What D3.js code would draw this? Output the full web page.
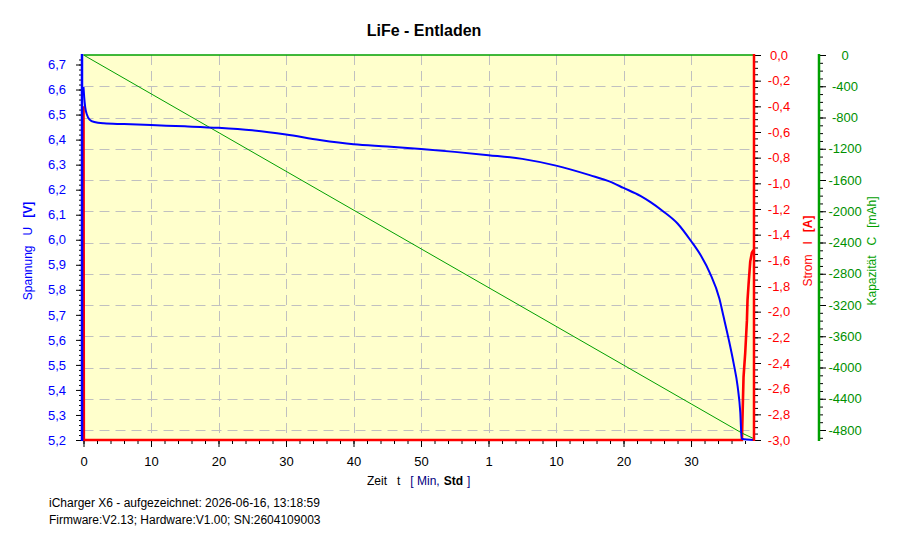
<!DOCTYPE html>
<html><head><meta charset="utf-8">
<script src="https://cdn.jsdelivr.net/npm/d3@7"></script>
<style>body{margin:0;background:#fff;} svg{display:block;font-family:"Liberation Sans",Arial,sans-serif;}</style>
</head><body><svg id="c" width="900" height="560"></svg>
<script>
// ---- data (time in minutes) ----
const voltTime   = [0, 0.1, 0.25, 0.5, 0.9, 1.6, 3, 6, 10, 15, 20, 25, 30, 35, 40, 45, 50, 55, 60, 65, 70, 75, 78, 80, 82.5, 84, 85.8, 88, 90, 91.5, 92.8, 94.2, 94.8, 95.6, 96.3, 96.9, 97.3, 97.5, 99.33];
const voltValues = [6.61, 6.57, 6.53, 6.50, 6.48, 6.47, 6.465, 6.462, 6.458, 6.453, 6.447, 6.437, 6.42, 6.398, 6.381, 6.372, 6.362, 6.351, 6.338, 6.323, 6.296, 6.258, 6.232, 6.207, 6.175, 6.15, 6.115, 6.065, 5.995, 5.935, 5.867, 5.765, 5.695, 5.6, 5.508, 5.415, 5.31, 5.205, 5.2];
const currTime   = [0, 0.05, 97.54, 97.78, 98.03, 98.28, 98.37, 98.52, 98.77, 99.02, 99.26];
const currValues = [-0.4, -3.0, -3.0, -2.51, -2.32, -2.07, -1.91, -1.79, -1.61, -1.54, -1.52];
const capTime    = [0, 97.6, 99.33];
const capValues  = [0, -4842, -4912];

const xTicks      = [0, 10, 20, 30, 40, 50, 60, 70, 80, 90];
const xTickLabels = ["0", "10", "20", "30", "40", "50", "1", "10", "20", "30"];
const voltTicks   = [5.2, 5.3, 5.4, 5.5, 5.6, 5.7, 5.8, 5.9, 6.0, 6.1, 6.2, 6.3, 6.4, 6.5, 6.6, 6.7];
const currTicks   = [0, -0.2, -0.4, -0.6, -0.8, -1.0, -1.2, -1.4, -1.6, -1.8, -2.0, -2.2, -2.4, -2.6, -2.8, -3.0];
const capTicks    = [0, -400, -800, -1200, -1600, -2000, -2400, -2800, -3200, -3600, -4000, -4400, -4800];

const title = "LiFe - Entladen";
const footer1 = "iCharger X6 - aufgezeichnet: 2026-06-16, 13:18:59";
const footer2 = "Firmware:V2.13; Hardware:V1.00; SN:2604109003";

// ---- layout ----
const L = 83.5, R = 754, T = 55, B = 440;
const x  = d3.scaleLinear().domain([0, 99.33]).range([L, R]);
const yV = d3.scaleLinear().domain([5.2, 6.738]).range([B, T]);
const yI = d3.scaleLinear().domain([-3, 0]).range([B, T]);
const yC = d3.scaleLinear().domain([-4928, 0]).range([B, T]);

const BLUE = "#0000ff", RED = "#ff0000", GREEN = "#00a000", GREENTXT = "#009000";
const svg = d3.select("#c");
const comma = f => v => d3.format(f)(v).replace(".", ",").replace("−", "-");

// background
svg.append("rect").attr("x", L).attr("y", T).attr("width", R - L).attr("height", B - T).attr("fill", "#ffffcc");

// grid
const grid = svg.append("g").attr("stroke", "#c0c0c0").attr("stroke-width", 1).attr("stroke-dasharray", "10,6");
grid.selectAll(".h").data(capTicks.filter(c => c < 0)).join("line")
  .attr("x1", L).attr("x2", R).attr("y1", d => Math.round(yC(d)) + 0.5).attr("y2", d => Math.round(yC(d)) + 0.5);
grid.selectAll(".v").data(xTicks.filter(t => t > 0)).join("line")
  .attr("y1", T).attr("y2", B).attr("x1", d => Math.round(x(d)) + 0.5).attr("x2", d => Math.round(x(d)) + 0.5);

// top border
svg.append("line").attr("x1", L).attr("x2", R).attr("y1", T).attr("y2", T).attr("stroke", GREEN).attr("stroke-width", 1.5);

// series
const idx = a => a.map((_, i) => i);
svg.append("path").datum(idx(currTime))
  .attr("d", d3.line().x(i => x(currTime[i])).y(i => yI(currValues[i])))
  .attr("fill", "none").attr("stroke", RED).attr("stroke-width", 2.6);
svg.append("path").datum(idx(capTime))
  .attr("d", d3.line().x(i => x(capTime[i])).y(i => yC(capValues[i])))
  .attr("fill", "none").attr("stroke", GREEN).attr("stroke-width", 1);
svg.append("path").datum(idx(voltTime))
  .attr("d", d3.line().curve(d3.curveMonotoneX).x(i => x(voltTime[i])).y(i => yV(voltValues[i])))
  .attr("fill", "none").attr("stroke", BLUE).attr("stroke-width", 2);

// axes helper
function styleAxis(g) {
  g.select(".domain").remove();
  g.selectAll(".tick line").attr("stroke", "#000");
}

// left voltage axis
const minorV = d3.range(5.2, 6.739, 0.02);
svg.append("g").attr("transform", "translate(82,0)")
  .call(d3.axisLeft(yV).tickValues(minorV).tickSize(3).tickFormat(""))
  .call(styleAxis);
svg.append("g").attr("transform", "translate(82,0)")
  .call(d3.axisLeft(yV).tickValues(voltTicks).tickSize(6).tickFormat(comma(".1f")))
  .call(styleAxis)
  .call(g => g.selectAll("text").attr("x", -16).attr("fill", BLUE).attr("font-size", 13).attr("font-family", "Liberation Sans, Arial, sans-serif"));
svg.append("line").attr("x1", 82).attr("x2", 82).attr("y1", T - 1).attr("y2", B + 1).attr("stroke", BLUE).attr("stroke-width", 2.5);

// red current axis
const minorI = d3.range(-3, 0.001, 0.05);
svg.append("g").attr("transform", "translate(755,0)")
  .call(d3.axisRight(yI).tickValues(minorI).tickSize(3).tickFormat(""))
  .call(styleAxis);
svg.append("g").attr("transform", "translate(755,0)")
  .call(d3.axisRight(yI).tickValues(currTicks).tickSize(6).tickFormat(comma(".1f")))
  .call(styleAxis)
  .call(g => g.selectAll("text").attr("x", 24).attr("text-anchor", "middle").attr("fill", RED).attr("font-size", 13).attr("font-family", "Liberation Sans, Arial, sans-serif"));
svg.append("line").attr("x1", 754).attr("x2", 754).attr("y1", T - 1).attr("y2", B + 1).attr("stroke", RED).attr("stroke-width", 2.5);

// green capacity axis
const minorC = d3.range(-4900, 1, 100);
svg.append("g").attr("transform", "translate(820,0)")
  .call(d3.axisRight(yC).tickValues(minorC).tickSize(3).tickFormat(""))
  .call(styleAxis);
svg.append("g").attr("transform", "translate(820,0)")
  .call(d3.axisRight(yC).tickValues(capTicks).tickSize(6).tickFormat(d => String(d)))
  .call(styleAxis)
  .call(g => g.selectAll("text").attr("x", 25).attr("text-anchor", "middle").attr("fill", GREENTXT).attr("font-size", 13).attr("font-family", "Liberation Sans, Arial, sans-serif"));
svg.append("line").attr("x1", 819).attr("x2", 819).attr("y1", T - 1).attr("y2", B + 1).attr("stroke", GREEN).attr("stroke-width", 2.5);

// x axis
const minorX = d3.range(0, 99.3, 2);
svg.append("g").attr("transform", `translate(0,${B + 1})`)
  .call(d3.axisBottom(x).tickValues(minorX).tickSize(3).tickFormat(""))
  .call(styleAxis);
svg.append("g").attr("transform", `translate(0,${B + 1})`)
  .call(d3.axisBottom(x).tickValues(xTicks).tickSize(6).tickFormat((d, i) => xTickLabels[i]))
  .call(styleAxis)
  .call(g => g.selectAll("text").attr("y", 16).attr("fill", "#000").attr("font-size", 13).attr("font-family", "Liberation Sans, Arial, sans-serif"));

// title
svg.append("text").attr("x", 424).attr("y", 36).attr("text-anchor", "middle")
  .attr("font-size", 16).attr("font-weight", "bold").text(title);

// axis titles
function rotTitle(cx, cy, color, parts) {
  const t = svg.append("text").attr("transform", `translate(${cx},${cy}) rotate(-90)`)
    .attr("text-anchor", "middle").attr("fill", color).attr("font-size", 12);
  parts.forEach(p => t.append("tspan").attr("dx", p.dx || 0).attr("font-weight", p.bold ? "bold" : null).text(p.s));
}
rotTitle(31.5, 251, BLUE, [{s: "Spannung"}, {s: "U", dx: 10}, {s: "[V]", dx: 9, bold: true}]);
rotTitle(812, 251, RED, [{s: "Strom"}, {s: "I", dx: 10}, {s: "[A]", dx: 9, bold: true}]);
rotTitle(876, 251, GREEN, [{s: "Kapazität"}, {s: "C", dx: 10}, {s: "[mAh]", dx: 9}]);

const xt = svg.append("text").attr("x", 367).attr("y", 485).attr("font-size", 12).attr("fill", "#000");
xt.append("tspan").text("Zeit");
xt.append("tspan").attr("dx", 10).text("t");
xt.append("tspan").attr("dx", 10).attr("fill", "#000080").text("[ Min,");
xt.append("tspan").attr("dx", 4).attr("font-weight", "bold").text("Std");
xt.append("tspan").attr("dx", 4).attr("fill", "#000080").text("]");

// footer
svg.append("text").attr("x", 49).attr("y", 507).attr("font-size", 12).attr("fill", "#000").text(footer1);
svg.append("text").attr("x", 49).attr("y", 524).attr("font-size", 12).attr("fill", "#000").text(footer2);
</script></body></html>
